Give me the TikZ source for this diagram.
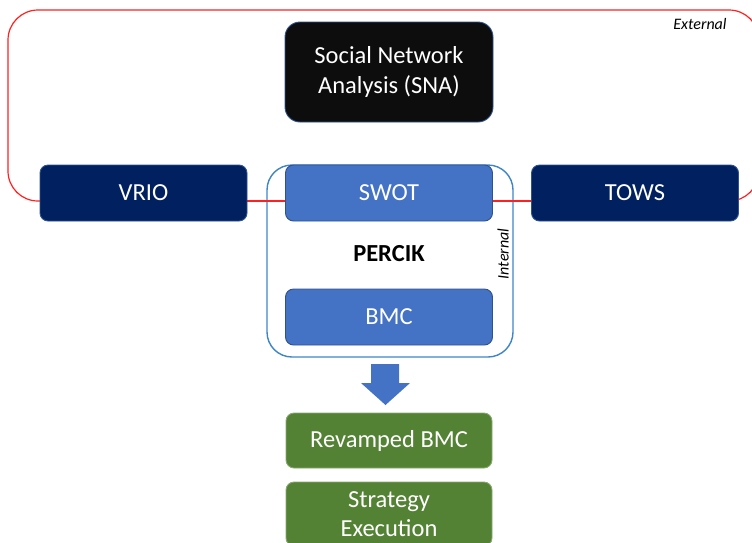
\documentclass[tikz,border=0pt]{standalone}
\usepackage{fontspec}
\setmainfont{Carlito}
\definecolor{snafill}{HTML}{0D0D0D}
\definecolor{navyfill}{HTML}{002060}
\definecolor{midblue}{HTML}{4472C4}
\definecolor{edgeblue}{HTML}{2F528F}
\definecolor{framered}{HTML}{FF2020}
\definecolor{frameblue}{HTML}{3D85C6}
\definecolor{greenfill}{HTML}{548235}
\begin{document}
\begin{tikzpicture}[x=1pt,y=-1pt,
  box/.style={draw=edgeblue, line width=0.9pt, rounded corners=8pt,
    minimum width=207pt, minimum height=56pt, inner sep=0pt,
    text=white, align=center, font=\fontsize{24.5}{29.5}\selectfont},
  outerbox/.style={box, fill=navyfill},
  innerbox/.style={box, fill=midblue},
  resultbox/.style={box, draw=greenfill!70!white, fill=greenfill, minimum width=206pt},
  tag/.style={font=\fontsize{16}{18}\selectfont\itshape, text=black, inner sep=0pt},
]
\useasboundingbox (0,0) rectangle (752,542);
\clip (0,0) rectangle (752,542);

% external frame and internal frame
\draw[framered, line width=1.2pt, rounded corners=30pt] (8,10) rectangle (759,201);
\node[draw=frameblue, line width=1.4pt, rounded corners=25pt,
      minimum width=246pt, minimum height=192pt] (percikframe) at (390,261) {};

% connector through the row of tools
\draw[framered, line width=1.2pt] (247,201) -- (531,201);

% analysis tools
\node[box, fill=snafill, draw=edgeblue, rounded corners=15pt,
      minimum width=208pt, minimum height=100pt] (sna) at (389,72)
      {Social Network\\Analysis (SNA)};
\node[outerbox] (vrio) at (143.5,193) {VRIO};
\node[innerbox] (swot) at (389,193) {SWOT};
\node[outerbox] (tows) at (635,193) {TOWS};
\node[innerbox] (bmc) at (389,317) {BMC};

\node[font=\fontsize{24.5}{29.5}\selectfont\bfseries, inner sep=0pt] (percik) at (389,254) {PERCIK};
\node[tag, rotate=90] (internal) at (503,254) {Internal};
\node[tag] (external) at (700,24) {External};

% block arrow down to the results
\fill[midblue] (371,364) -- (399,364) -- (399,383) -- (410,383) -- (385.5,405)
  -- (361,383) -- (371,383) -- cycle;

% results
\node[resultbox, minimum height=55pt] (revamped) at (389,440.5) {Revamped BMC};
\node[resultbox, minimum height=64pt] (strategy) at (389,514) {Strategy\\Execution};
\end{tikzpicture}
\end{document}
